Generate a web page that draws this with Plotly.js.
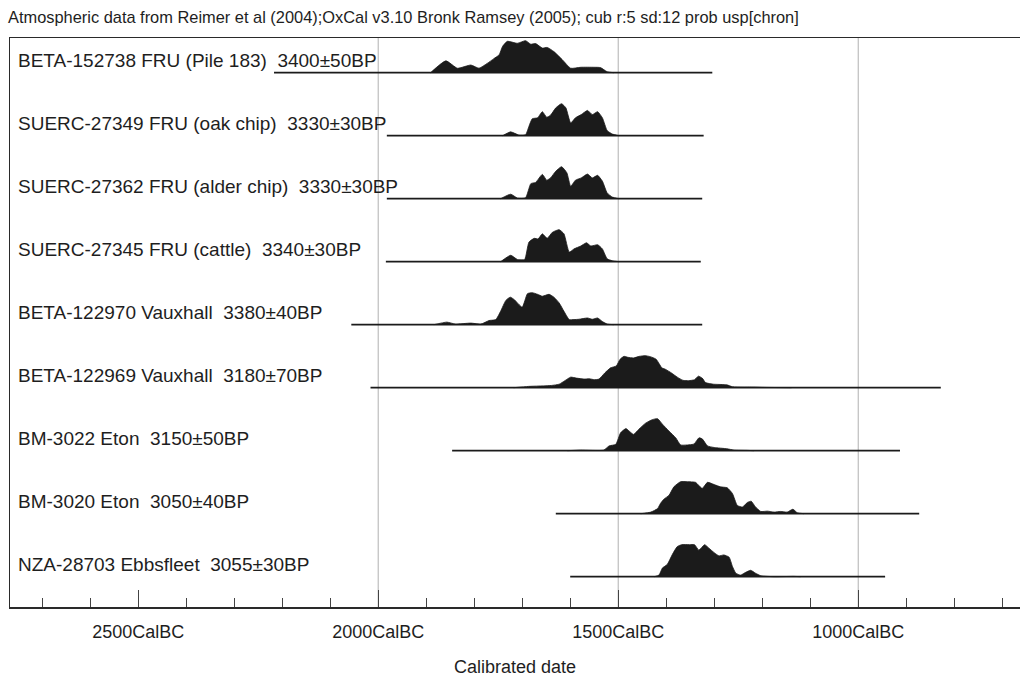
<!DOCTYPE html>
<html>
<head>
<meta charset="utf-8">
<script src="https://cdn.plot.ly/plotly-3.0.1.min.js"></script>
<style>html,body{margin:0;padding:0;background:#fff;}#chart{width:1022px;height:679px;}</style>
</head>
<body>
<div id="chart"></div>
<script>
// Sample labels (top to bottom)
const labels = [
  "BETA-152738 FRU (Pile 183)\u00a0 3400±50BP",
  "SUERC-27349 FRU (oak chip)\u00a0 3330±30BP",
  "SUERC-27362 FRU (alder chip)\u00a0 3330±30BP",
  "SUERC-27345 FRU (cattle)\u00a0 3340±30BP",
  "BETA-122970 Vauxhall\u00a0 3380±40BP",
  "BETA-122969 Vauxhall\u00a0 3180±70BP",
  "BM-3022 Eton\u00a0 3150±50BP",
  "BM-3020 Eton\u00a0 3050±40BP",
  "NZA-28703 Ebbsfleet\u00a0 3055±30BP"
];
// Calibrated range lines (cal BC)
const rangeStart = [2217, 1982, 1982, 1984, 2056, 2016, 1846, 1630, 1600];
const rangeEnd   = [1304, 1322, 1325, 1328, 1325,  828,  913,  873,  944];

// Probability distributions: years (cal BC) and relative probability (% of max)
const yr1 = [1891,1859,1835,1807,1790,1773,1759,1748,1741,1731,1710,1693,1682,1672,1658,1648,1634,1616,1599,1578,1550,1537,1523,1509];
const p1  = [0,37,14,24,14,29,44,56,82,98,92,100,89,91,77,79,66,40,14,17,17,16,3,0];
const yr2 = [1741,1724,1707,1693,1686,1679,1668,1658,1649,1641,1630,1618,1609,1599,1589,1577,1564,1554,1543,1533,1523,1512,1498];
const p2  = [0,12,2,3,29,53,56,75,58,64,87,100,87,40,56,66,79,66,75,56,16,5,0];
const yr3 = [1745,1724,1710,1693,1682,1672,1658,1649,1641,1630,1618,1607,1599,1589,1577,1564,1554,1543,1533,1523,1512,1498];
const p3  = [0,14,2,3,47,51,76,58,65,86,100,81,39,58,65,77,65,73,55,18,5,0];
const yr4 = [1745,1724,1710,1695,1686,1675,1667,1658,1648,1637,1623,1613,1602,1592,1578,1566,1557,1543,1533,1523,1512,1498];
const p4  = [0,20,7,7,61,73,71,87,73,92,100,87,30,40,49,59,49,53,40,9,3,0];
const yr5 = [1884,1857,1839,1807,1786,1769,1755,1745,1734,1725,1717,1700,1689,1679,1668,1658,1644,1634,1623,1613,1602,1592,1582,1564,1554,1543,1533,1523,1509];
const p5  = [0,8,2,5,2,13,16,42,76,86,79,55,97,100,95,89,95,86,68,42,16,16,17,21,17,21,10,2,0];
const yr6 = [1718,1687,1639,1623,1611,1599,1587,1571,1560,1550,1540,1528,1516,1504,1496,1488,1480,1468,1456,1444,1433,1421,1409,1401,1389,1377,1365,1353,1341,1333,1325,1318,1302,1274,1262,1242,1218,1194,1139];
const p6  = [0,4,7,11,22,33,30,27,28,25,27,46,62,68,89,98,95,93,98,100,97,89,62,57,46,33,23,22,25,36,30,16,11,9,3,2,2,1,0];
const yr7 = [1606,1578,1530,1519,1505,1495,1484,1477,1468,1457,1443,1429,1418,1408,1394,1380,1370,1356,1342,1332,1325,1314,1300,1273,1259,1231,1217];
const p7  = [0,2,2,15,20,56,69,61,51,67,86,97,100,83,61,40,18,18,21,40,37,15,10,6,2,1,0];
const yr8 = [1453,1432,1418,1412,1405,1394,1384,1370,1356,1339,1325,1314,1300,1287,1273,1262,1252,1241,1231,1223,1214,1203,1189,1175,1162,1148,1136,1127,1113];
const p8  = [0,5,16,32,45,58,84,100,100,98,79,98,91,84,81,63,26,21,35,39,21,7,8,5,7,5,14,3,0];
const yr9 = [1425,1415,1408,1398,1387,1377,1368,1352,1341,1332,1320,1311,1300,1290,1280,1269,1262,1255,1245,1234,1224,1214,1203,1175,1134,1120];
const p9  = [0,5,27,38,70,94,100,100,100,83,100,89,75,65,68,61,32,11,5,14,20,11,3,0,1,0];

const tickYears = [2500, 2000, 1500, 1000];
const tickText = ["2500CalBC", "2000CalBC", "1500CalBC", "1000CalBC"];
const gridYears = [2000, 1500, 1000];

const titleText = "Atmospheric data from Reimer et al (2004);OxCal v3.10 Bronk Ramsey (2005); cub r:5 sd:12 prob usp[chron]";
const xTitle = "Calibrated date";

const years = [yr1, yr2, yr3, yr4, yr5, yr6, yr7, yr8, yr9];
const probs = [p1, p2, p3, p4, p5, p6, p7, p8, p9];

const FONT = "Liberation Sans, Arial, Helvetica, sans-serif";
const INK = "#1b1b1b";
const BASE_OFF = 0.551;   // baseline offset within a row (row units)
const PEAK = 0.508;       // height of 100% in row units

const traces = [];
const annotations = [];
labels.forEach((lab, i) => {
  const base = i + BASE_OFF;
  traces.push({
    type: "scatter", mode: "lines", hoverinfo: "skip", showlegend: false,
    x: [rangeStart[i], rangeEnd[i]], y: [base, base],
    line: {color: INK, width: 1.8}
  });
  traces.push({
    type: "scatter", mode: "lines", hoverinfo: "skip", showlegend: false,
    x: years[i], y: probs[i].map(p => base - p / 100 * PEAK),
    fill: "toself", fillcolor: INK,
    line: {color: INK, width: 0.8, shape: "spline", smoothing: 0.5}
  });
  annotations.push({
    xref: "paper", yref: "y", x: 6 / 1010, y: base - 0.2,
    xanchor: "left", yanchor: "middle", showarrow: false,
    text: lab, font: {family: FONT, size: 19, color: "#1e1e1e"}
  });
});

const shapes = gridYears.map(g => ({
  type: "line", xref: "x", yref: "paper", x0: g, x1: g, y0: 0, y1: 1,
  line: {color: "#b0b0b0", width: 1}, layer: "below"
}));

const layout = {
  width: 1022, height: 679,
  margin: {l: 10, r: 2, t: 38, b: 72, pad: 0},
  paper_bgcolor: "#fff", plot_bgcolor: "#fff",
  showlegend: false,
  font: {family: FONT, color: "#1e1e1e"},
  title: {
    text: titleText, font: {family: FONT, size: 16.4, color: "#1e1e1e"},
    xref: "container", yref: "container", x: 8 / 1022, y: 1 - 17 / 679,
    xanchor: "left", yanchor: "middle"
  },
  xaxis: {
    range: [2767, 663], showgrid: false, zeroline: false,
    showline: true, linecolor: "#2a2a2a", linewidth: 1.5, mirror: true,
    ticks: "inside", ticklen: 17, tickwidth: 1, tickcolor: "#444",
    tickmode: "array", tickvals: tickYears, ticktext: tickText,
    tickfont: {family: FONT, size: 18, color: "#1e1e1e"},
    ticklabelstandoff: 8,
    minor: {tickmode: "linear", tick0: 0, dtick: 100, ticks: "inside", ticklen: 9, tickwidth: 1, tickcolor: "#444", showgrid: false},
    title: {text: xTitle, font: {family: FONT, size: 18, color: "#1e1e1e"}, standoff: 19},
    fixedrange: true
  },
  yaxis: {
    range: [9.032, 0], showgrid: false, zeroline: false, showticklabels: false,
    ticks: "", showline: true, linecolor: "#2a2a2a", linewidth: 1.5, fixedrange: true
  },
  shapes: shapes,
  annotations: annotations
};

Plotly.newPlot("chart", traces, layout, {displayModeBar: false, staticPlot: true});
</script>
</body>
</html>
